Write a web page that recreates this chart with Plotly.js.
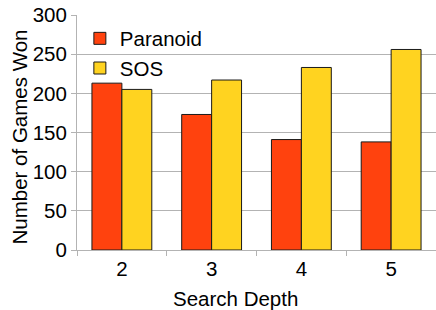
<!DOCTYPE html>
<html><head><meta charset="utf-8">
<script src="https://cdn.plot.ly/plotly-3.0.1.min.js"></script>
<style>html,body{margin:0;padding:0;background:#fff}#c{width:436px;height:310px}</style>
</head><body><div id="c"></div>
<script>
const depths = ["2", "3", "4", "5"];
const paranoid = [213, 173, 141, 138];
const sos = [205, 217, 233, 256];
const yTicks = [0, 50, 100, 150, 200, 250, 300];
const xTitle = "Search Depth";
const yTitle = "Number of Games Won";

const font = {family: "Liberation Sans, Arial, sans-serif", size: 20.5, color: "#000"};
const traces = [
  {type: "bar", name: "Paranoid", x: depths, y: paranoid,
   marker: {color: "#FF420E", line: {color: "#1a1a1a", width: 1}}},
  {type: "bar", name: "SOS", x: depths, y: sos,
   marker: {color: "#FFD320", line: {color: "#1a1a1a", width: 1}}}
];
const layout = {
  width: 436, height: 310,
  margin: {l: 77, r: 0, t: 15, b: 60},
  paper_bgcolor: "#fff", plot_bgcolor: "#fff",
  font: font,
  barmode: "group", bargap: 0.333, bargroupgap: 0,
  showlegend: true,
  legend: {x: 0.008, y: 0.985, xanchor: "left", yanchor: "top", bgcolor: "rgba(0,0,0,0)",
           font: font, tracegroupgap: 0},
  xaxis: {type: "category", tickson: "boundaries", ticks: "outside", ticklen: 5,
          tickcolor: "#b3b3b3", showline: true, linecolor: "#b3b3b3", linewidth: 1,
          showgrid: false, tickfont: font},
  yaxis: {range: [0, 300], tickvals: yTicks, ticks: "outside", ticklen: 5,
          tickcolor: "#b3b3b3", showline: true, linecolor: "#b3b3b3", linewidth: 1,
          showgrid: true, gridcolor: "#b3b3b3", zeroline: false, tickfont: font},
  annotations: [
    {text: xTitle, xref: "paper", yref: "paper", x: (235.5 - 77) / 359, y: -(298 - 250) / 235,
     xanchor: "center", yanchor: "middle", showarrow: false, font: font},
    {text: yTitle, xref: "paper", yref: "paper", x: (18.5 - 77) / 359, y: (250 - 137) / 235,
     xanchor: "center", yanchor: "middle", textangle: -90, showarrow: false, font: font}
  ]
};
Plotly.newPlot("c", traces, layout, {staticPlot: true, displayModeBar: false});
</script></body></html>
